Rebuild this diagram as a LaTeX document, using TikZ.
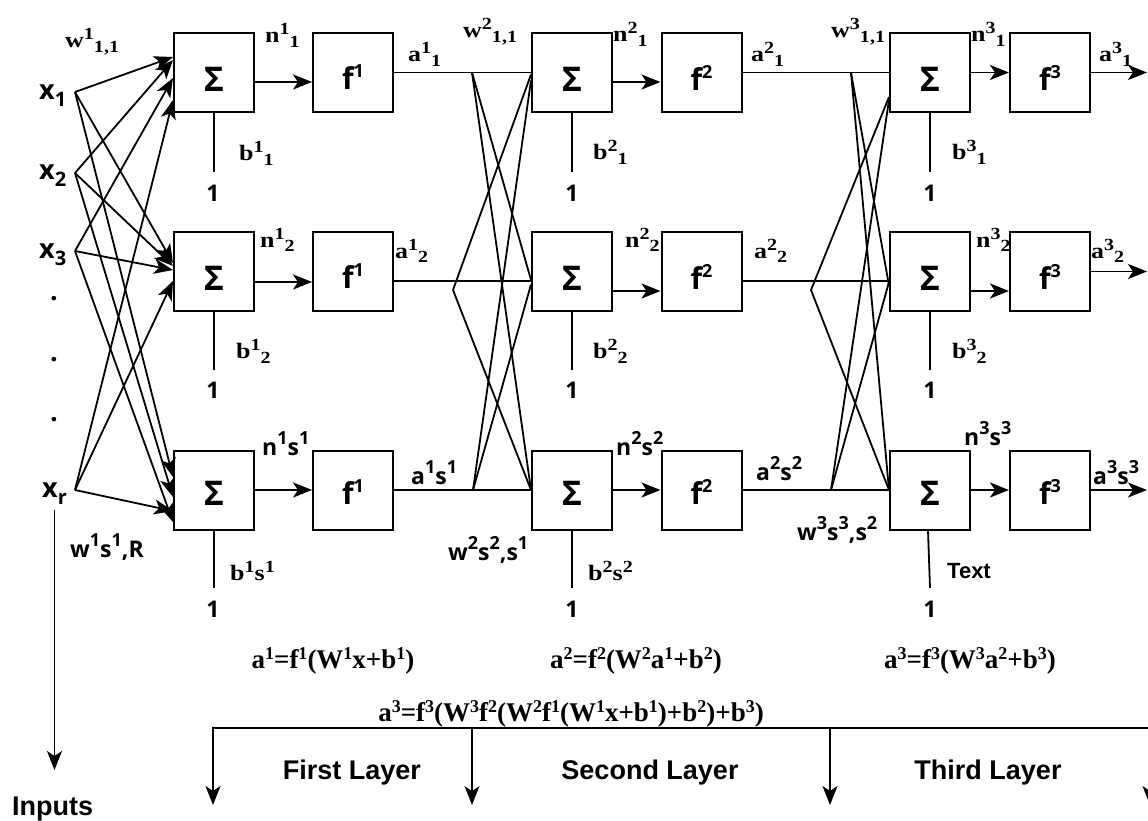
\documentclass[tikz,border=0pt]{standalone}
\usepackage{fontspec}
\setmainfont{Liberation Serif}
\newfontfamily\wserif[FakeStretch=1.18]{Liberation Serif}
\newfontfamily\osans{Open Sans}
\newfontfamily\lsans{Liberation Sans}
\usetikzlibrary{arrows.meta,calc}
\newcommand\ssup[1]{\raisebox{8pt}{\fontsize{17}{17}\selectfont #1}}
\newcommand\ssub[1]{\raisebox{-5pt}{\fontsize{17}{17}\selectfont #1}}
\newcommand\asup[1]{\raisebox{11pt}{\fontsize{18}{18}\selectfont #1}}
\newcommand\xsub[1]{\raisebox{-7pt}{\fontsize{20}{20}\selectfont #1}}
\newcommand\fsup[1]{\raisebox{12pt}{\fontsize{18}{18}\selectfont #1}}
\newcommand\msup[1]{\raisebox{9pt}{\fontsize{18}{18}\selectfont #1}}
\begin{document}
\begin{tikzpicture}[x=1pt,y=-1pt,
  box/.style={draw,line width=2pt,minimum width=80pt,minimum height=79pt,inner sep=0pt},
  con/.style={line width=1.8pt},
  tipst/.style={-{Stealth[length=19pt,width=15pt,inset=5pt]}},
  arr/.style={con,tipst},
  btxt/.style={inner sep=0pt,font=\fontsize{34}{34}\selectfont\osans\bfseries},
  ftxt/.style={inner sep=0pt,font=\fontsize{30}{30}\selectfont\osans\bfseries},
  serl/.style={anchor=base west,inner sep=0pt,font=\fontsize{22}{22}\selectfont\wserif\bfseries},
  sanl/.style={anchor=base west,inner sep=0pt,font=\fontsize{23}{23}\selectfont\osans\bfseries},
  xl/.style={anchor=base west,inner sep=0pt,font=\fontsize{27}{27}\selectfont\osans\bfseries},
  dotl/.style={anchor=base,inner sep=0pt,font=\fontsize{27}{27}\selectfont\osans\bfseries},
  onel/.style={anchor=base,inner sep=0pt,font=\fontsize{23}{23}\selectfont\osans\bfseries},
  forml/.style={anchor=base,inner sep=0pt,font=\fontsize{27}{27}\selectfont\bfseries},
  layl/.style={anchor=base,inner sep=0pt,font=\fontsize{27}{27}\selectfont\lsans\bfseries},
  txtl/.style={anchor=base west,inner sep=0pt,font=\fontsize{22}{22}\selectfont\lsans\bfseries}
]
\fill[white] (0,0) rectangle (1148,821);
\useasboundingbox (0,0) rectangle (1148,821);

% ---------- boxes ----------
\node[box,label={[btxt,yshift=-7pt]center:Σ}] (s11) at (214,72.5) {};
\node[box,label={[btxt,yshift=-7pt]center:Σ}] (s12) at (214,271.5) {};
\node[box,label={[btxt,yshift=-3pt]center:Σ}] (s13) at (214,490) {};
\node[box,label={[ftxt,yshift=-5pt]center:f\fsup{1}}] (f11) at (353,72.5) {};
\node[box,label={[ftxt,yshift=-5pt]center:f\fsup{1}}] (f12) at (353,271.5) {};
\node[box,label={[ftxt,yshift=-2pt]center:f\fsup{1}}] (f13) at (353,490) {};
\node[box,label={[btxt,yshift=-7pt]center:Σ}] (s21) at (572,72.5) {};
\node[box,label={[btxt,yshift=-7pt]center:Σ}] (s22) at (572,271.5) {};
\node[box,label={[btxt,yshift=-3pt]center:Σ}] (s23) at (572,490) {};
\node[box,label={[ftxt,yshift=-5pt]center:f\fsup{2}}] (f21) at (701.5,72.5) {};
\node[box,label={[ftxt,yshift=-5pt]center:f\fsup{2}}] (f22) at (701.5,271.5) {};
\node[box,label={[ftxt,yshift=-2pt]center:f\fsup{2}}] (f23) at (701.5,490) {};
\node[box,label={[btxt,yshift=-7pt]center:Σ}] (s31) at (930,72.5) {};
\node[box,label={[btxt,yshift=-7pt]center:Σ}] (s32) at (930,271.5) {};
\node[box,label={[btxt,yshift=-3pt]center:Σ}] (s33) at (930,490) {};
\node[box,label={[ftxt,yshift=-5pt]center:f\fsup{3}}] (f31) at (1050,72.5) {};
\node[box,label={[ftxt,yshift=-5pt]center:f\fsup{3}}] (f32) at (1050,271.5) {};
\node[box,label={[ftxt,yshift=-2pt]center:f\fsup{3}}] (f33) at (1050,490) {};

% ---------- inputs ----------
\node[xl] (lx1) at (39,100) {x\xsub{1}};
\node[xl] (lx2) at (39,180) {x\xsub{2}};
\node[xl] (lx3) at (39,258) {x\xsub{3}};
\node[xl] (lxr) at (42,497) {x\xsub{r}};
\node[dotl] (d1) at (54,300) {.};
\node[dotl] (d2) at (54,361) {.};
\node[dotl] (d3) at (54,421) {.};
\coordinate (X1) at (75,92);
\coordinate (X2) at (75,173);
\coordinate (X3) at (75,251);
\coordinate (XR) at (75,490);

\draw[arr] (X1) -- ($(s11.west)+(0,-15.5)$);
\draw[arr] (X2) -- ($(s11.west)+(0,-12.5)$);
\draw[arr] (X3) -- ($(s11.west)+(0,5.5)$);
\draw[arr] (XR) -- ($(s11.west)+(0,27.5)$);
\draw[arr] (X1) -- ($(s12.west)+(0,-8.5)$);
\draw[arr] (X2) -- ($(s12.west)+(0,-5.5)$);
\draw[arr] (X3) -- ($(s12.west)+(0,-1.5)$);
\draw[arr] (XR) -- ($(s12.west)+(0,9.5)$);
\draw[arr] (X1) -- ($(s13.west)+(0,-13)$);
\draw[arr] (X2) -- ($(s13.west)+(0,7)$);
\draw[arr] (X3) -- ($(s13.west)+(0,32)$);
\draw[arr] (XR) -- ($(s13.west)+(0,21)$);

% ---------- sum -> f ----------
\draw[arr] ($(s11.east)+(0,9.5)$) -- ($(f11.west)+(0,9.5)$);
\draw[arr] ($(s12.east)+(0,10.5)$) -- ($(f12.west)+(0,10.5)$);
\draw[arr] (s13.east) -- (f13.west);
\draw[arr] ($(s21.east)+(0,9.5)$) -- ($(f21.west)+(0,9.5)$);
\draw[arr] ($(s22.east)+(0,19.5)$) -- ($(f22.west)+(0,19.5)$);
\draw[arr] (s23.east) -- (f23.west);
\draw[arr] (s31.east) -- (f31.west);
\draw[arr] ($(s32.east)+(0,19.5)$) -- ($(f32.west)+(0,19.5)$);
\draw[arr] (s33.east) -- (f33.west);

% ---------- layer 1 -> layer 2 ----------
\draw[con] (f11.east) -- (s21.west);
\draw[con] ($(f12.east)+(0,9.5)$) -- ($(s22.west)+(0,9.5)$);
\draw[con] (f13.east) -- (s23.west);
\coordinate (A2) at (472,72.5);
\coordinate (B2) at (453,290);
\coordinate (C2) at (473,490);
\draw[con] (A2) -- ($(s22.west)+(0,8.5)$);
\draw[con] (A2) -- (s23.west);
\draw[con] (B2) -- ($(s21.west)+(0,2)$);
\draw[con] (B2) -- (s23.west);
\draw[con] (C2) -- ($(s21.west)+(0,8)$);
\draw[con] (C2) -- ($(s22.west)+(0,13)$);

% ---------- layer 2 -> layer 3 ----------
\draw[con] (f21.east) -- (s31.west);
\draw[con] ($(f22.east)+(0,9.5)$) -- ($(s32.west)+(0,9.5)$);
\draw[con] (f23.east) -- (s33.west);
\coordinate (A3) at (851,72.5);
\coordinate (B3) at (811,290);
\coordinate (C3) at (831,490);
\draw[con] (A3) -- ($(s32.west)+(0,14)$);
\draw[con] (A3) -- (s33.west);
\draw[con] (B3) -- ($(s31.west)+(0,24.5)$);
\draw[con] (B3) -- (s33.west);
\draw[con] (C3) -- ($(s31.west)+(0,27.5)$);
\draw[con] (C3) -- ($(s32.west)+(0,10.5)$);

% ---------- outputs ----------
\coordinate (O1) at (1147,72.5);
\coordinate (O2) at (1147,271.5);
\coordinate (O3) at (1147,490);
\draw[arr] (f31.east) -- (O1);
\draw[arr] (f32.east) -- (O2);
\draw[arr] (f33.east) -- (O3);

% ---------- biases ----------
\coordinate (E11) at (214,172);
\coordinate (E12) at (214,370);
\coordinate (E13) at (214,588);
\coordinate (E21) at (572,172);
\coordinate (E22) at (572,370);
\coordinate (E23) at (572,588);
\coordinate (E31) at (930,172);
\coordinate (E32) at (930,370);
\coordinate (E33) at (930,588);
\draw[con] (s11.south) -- (E11);
\draw[con] (s12.south) -- (E12);
\draw[con] (s13.south) -- (E13);
\draw[con] (s21.south) -- (E21);
\draw[con] (s22.south) -- (E22);
\draw[con] (s23.south) -- (E23);
\draw[con] (s31.south) -- (E31);
\draw[con] (s32.south) -- (E32);
\draw[con] ($(s33.south)+(-2,0)$) -- (E33);
\node[onel] (o11) at (213,201) {1};
\node[onel] (o12) at (213,398) {1};
\node[onel] (o13) at (213,617) {1};
\node[onel] (o21) at (572,201) {1};
\node[onel] (o22) at (572,398) {1};
\node[onel] (o23) at (572,617) {1};
\node[onel] (o31) at (930,201) {1};
\node[onel] (o32) at (930,398) {1};
\node[onel] (o33) at (930,617) {1};

% ---------- serif labels ----------
\node[serl] (lw11) at (65,48) {w\ssup{1}\ssub{1,1}};
\node[serl] (ln11) at (265,43) {n\ssup{1}\ssub{1}};
\node[serl] (lb11) at (239,161) {b\ssup{1}\ssub{1}};
\node[serl] (ln12) at (260,247) {n\ssup{1}\ssub{2}};
\node[serl] (lb12) at (236,358) {b\ssup{1}\ssub{2}};
\node[serl] (lb13) at (230,580) {b\ssup{1}s\ssup{1}};
\node[serl] (la11) at (408,62) {a\ssup{1}\ssub{1}};
\node[serl] (la12) at (395,258) {a\ssup{1}\ssub{2}};
\node[serl] (lw21) at (463,38) {w\ssup{2}\ssub{1,1}};
\node[serl] (ln21) at (613,42) {n\ssup{2}\ssub{1}};
\node[serl] (lb21) at (593,160) {b\ssup{2}\ssub{1}};
\node[serl] (ln22) at (625,247) {n\ssup{2}\ssub{2}};
\node[serl] (lb22) at (593,358) {b\ssup{2}\ssub{2}};
\node[serl] (lb23) at (588,580) {b\ssup{2}s\ssup{2}};
\node[serl] (la21) at (751,62) {a\ssup{2}\ssub{1}};
\node[serl] (la22) at (754,258) {a\ssup{2}\ssub{2}};
\node[serl] (lw31) at (831,38) {w\ssup{3}\ssub{1,1}};
\node[serl] (ln31) at (971,42) {n\ssup{3}\ssub{1}};
\node[serl] (lb31) at (952,160) {b\ssup{3}\ssub{1}};
\node[serl] (ln32) at (976,247) {n\ssup{3}\ssub{2}};
\node[serl] (lb32) at (952,358) {b\ssup{3}\ssub{2}};
\node[serl] (la31) at (1099,62) {a\ssup{3}\ssub{1}};
\node[serl] (la32) at (1091,258) {a\ssup{3}\ssub{2}};

% ---------- sans labels ----------
\node[sanl] (ln13) at (262,455) {n\asup{1}s\asup{1}};
\node[sanl] (la13) at (411,484) {a\asup{1}s\asup{1}};
\node[sanl] (lw13) at (70,557) {w\asup{1}s\asup{1},R};
\node[sanl] (lw23) at (448,560) {w\asup{2}s\asup{2},s\asup{1}};
\node[sanl] (ln23) at (616,455) {n\asup{2}s\asup{2}};
\node[sanl] (la23) at (756,480) {a\asup{2}s\asup{2}};
\node[sanl] (lw33) at (797,540) {w\asup{3}s\asup{3},s\asup{2}};
\node[sanl] (ln33) at (964,445) {n\asup{3}s\asup{3}};
\node[sanl] (la33) at (1093,484) {a\asup{3}s\asup{3}};
\node[txtl] (ltext) at (947,578) {Text};

% ---------- formulas ----------
\node[forml] (fm1) at (333,668) {a\msup{1}=f\msup{1}(W\msup{1}x+b\msup{1})};
\node[forml] (fm2) at (636,668) {a\msup{2}=f\msup{2}(W\msup{2}a\msup{1}+b\msup{2})};
\node[forml] (fm3) at (970,668) {a\msup{3}=f\msup{3}(W\msup{3}a\msup{2}+b\msup{3})};
\node[forml] (fm4) at (571,721) {a\msup{3}=f\msup{3}(W\msup{3}f\msup{2}(W\msup{2}f\msup{1}(W\msup{1}x+b\msup{1})+b\msup{2})+b\msup{3})};

% ---------- bottom ----------
\coordinate (IN0) at (54.5,510);
\coordinate (IN1) at (54.5,770);
\draw[arr] (IN0) -- (IN1);
\node[layl,anchor=base west] (linp) at (12,815) {Inputs};
\coordinate (D1) at (213,805);
\coordinate (H1) at (1148,728);
\draw[con,{Stealth[length=19pt,width=15pt,inset=5pt]}-] (D1) |- (H1);
\coordinate (T2) at (472,728);
\coordinate (D2) at (472,805);
\coordinate (T3) at (830,728);
\coordinate (D3) at (830,805);
\coordinate (T4) at (1150,728);
\coordinate (D4) at (1150,805);
\draw[arr] (T2) -- (D2);
\draw[arr] (T3) -- (D3);
\draw[arr] (T4) -- (D4);
\node[layl] (ll1) at (352,779) {First Layer};
\node[layl] (ll2) at (650,779) {Second Layer};
\node[layl] (ll3) at (988,779) {Third Layer};
\end{tikzpicture}
\end{document}
